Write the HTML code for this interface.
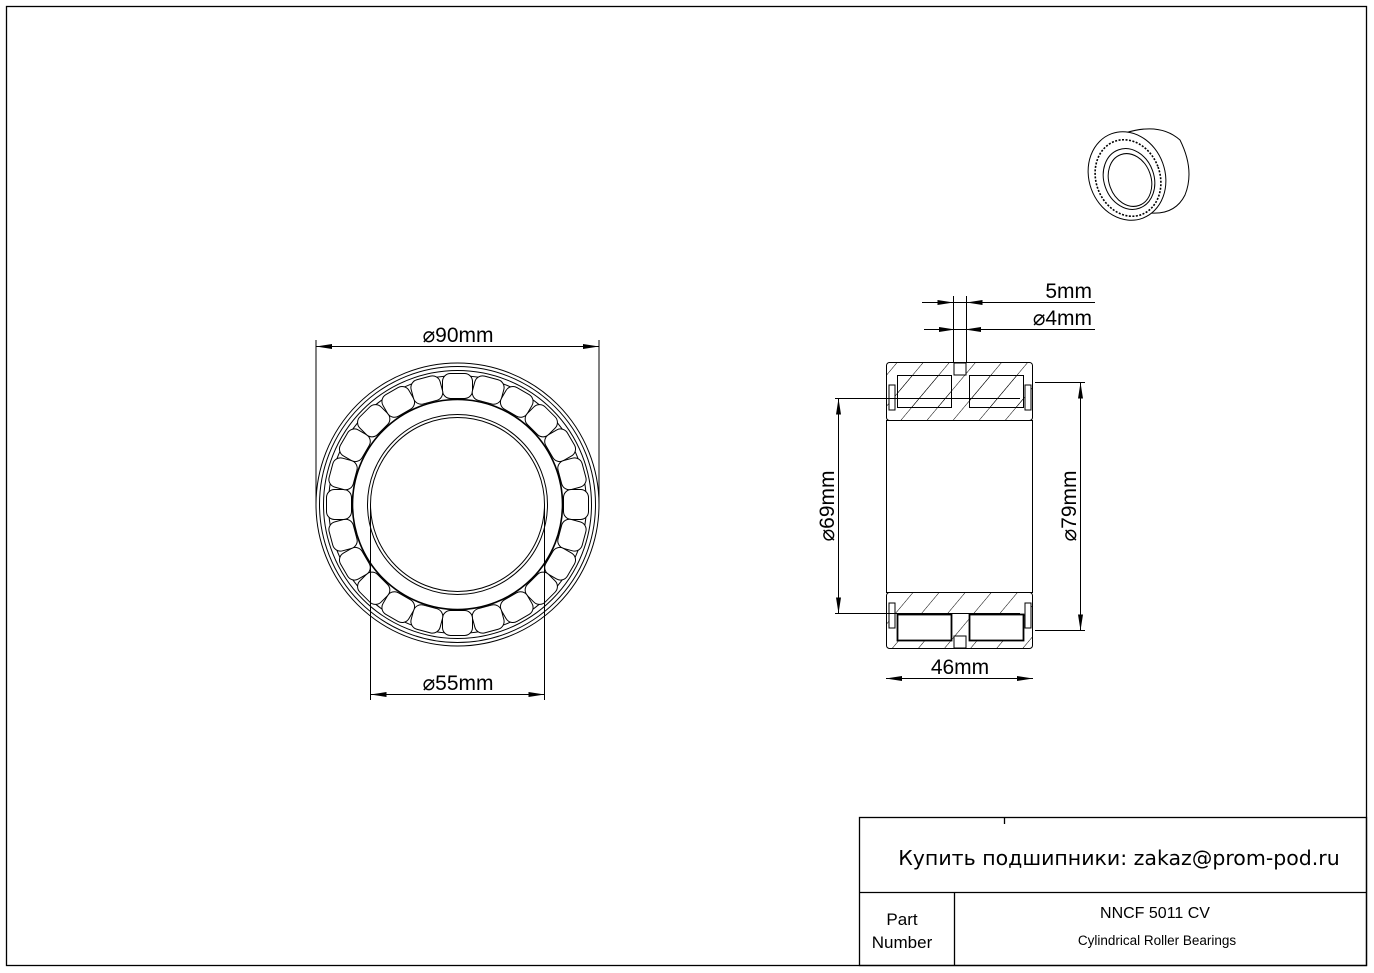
<!DOCTYPE html>
<html><head><meta charset="utf-8"><style>
html,body{margin:0;padding:0;background:#fff}
svg{display:block}
text{font-family:"Liberation Sans","DejaVu Sans",sans-serif;fill:#000}
</style></head><body>
<svg width="1374" height="973" viewBox="0 0 1374 973" xmlns="http://www.w3.org/2000/svg">
<defs>
<pattern id="h" patternUnits="userSpaceOnUse" width="20" height="20" patternTransform="rotate(40)">
<line x1="0" y1="0" x2="0" y2="20" stroke="#000" stroke-width="1"/>
</pattern>
<g id="rol"><rect x="-15" y="-131" width="30" height="25" rx="8" fill="#fff" stroke="#000" stroke-width="1"/></g>
</defs>
<rect x="6.5" y="6.5" width="1360" height="959" fill="none" stroke="#000" stroke-width="1.3"/>
<!-- Title block -->
<g stroke="#000" stroke-width="1.3" fill="none">
<rect x="859.5" y="817.5" width="507" height="148"/>
<line x1="859" y1="892.5" x2="1366" y2="892.5"/>
<line x1="954.5" y1="892" x2="954.5" y2="966"/>
<line x1="1004.5" y1="817" x2="1004.5" y2="824"/>
</g>
<text x="1119" y="865" font-size="20.5" text-anchor="middle" style="font-family:'DejaVu Sans',sans-serif">Купить подшипники: zakaz@prom-pod.ru</text>
<text x="902" y="925" font-size="17" text-anchor="middle">Part</text>
<text x="902" y="948" font-size="17" text-anchor="middle">Number</text>
<text x="1155" y="918" font-size="16" text-anchor="middle">NNCF 5011 CV</text>
<text x="1157" y="945" font-size="13.5" text-anchor="middle">Cylindrical Roller Bearings</text>

<!-- Front view -->
<g fill="none" stroke="#000" stroke-width="1">
<circle cx="457.5" cy="504.5" r="141.5"/>
<circle cx="457.5" cy="504.5" r="138"/>
<circle cx="457.5" cy="504.5" r="134"/>
<circle cx="457.5" cy="504.5" r="129"/>
<circle cx="457.5" cy="504.5" r="105" stroke-width="1.6"/>
<circle cx="457.5" cy="504.5" r="90"/>
<circle cx="457.5" cy="504.5" r="87"/>
</g>
<g transform="translate(457.5,504.5)">
<use href="#rol" transform="rotate(0)"/><use href="#rol" transform="rotate(15)"/><use href="#rol" transform="rotate(30)"/><use href="#rol" transform="rotate(45)"/><use href="#rol" transform="rotate(60)"/><use href="#rol" transform="rotate(75)"/><use href="#rol" transform="rotate(90)"/><use href="#rol" transform="rotate(105)"/><use href="#rol" transform="rotate(120)"/><use href="#rol" transform="rotate(135)"/><use href="#rol" transform="rotate(150)"/><use href="#rol" transform="rotate(165)"/><use href="#rol" transform="rotate(180)"/><use href="#rol" transform="rotate(195)"/><use href="#rol" transform="rotate(210)"/><use href="#rol" transform="rotate(225)"/><use href="#rol" transform="rotate(240)"/><use href="#rol" transform="rotate(255)"/><use href="#rol" transform="rotate(270)"/><use href="#rol" transform="rotate(285)"/><use href="#rol" transform="rotate(300)"/><use href="#rol" transform="rotate(315)"/><use href="#rol" transform="rotate(330)"/><use href="#rol" transform="rotate(345)"/>
</g>
<g stroke="#000" stroke-width="1" fill="none">
<line x1="316" y1="340" x2="316" y2="504"/>
<line x1="599" y1="340" x2="599" y2="504"/>
<line x1="316" y1="346.5" x2="599" y2="346.5"/>
<line x1="370.5" y1="504" x2="370.5" y2="700"/>
<line x1="544.5" y1="504" x2="544.5" y2="700"/>
<line x1="370" y1="694.5" x2="545" y2="694.5"/>
</g>
<g fill="#000">
<path d="M316 346.5 l16 -2.5 v5z"/><path d="M599 346.5 l-16 -2.5 v5z"/>
<path d="M370.5 694.5 l16 -2.5 v5z"/><path d="M544.5 694.5 l-16 -2.5 v5z"/>
</g>
<text x="458" y="342" font-size="21" text-anchor="middle">⌀90mm</text>
<text x="458" y="690" font-size="21" text-anchor="middle">⌀55mm</text>

<!-- Side view -->
<g stroke="#000" stroke-width="1">
<rect x="886.5" y="362.5" width="146" height="58" rx="3" fill="url(#h)"/>
<rect x="886.5" y="592.5" width="146" height="56" rx="3" fill="url(#h)"/>
<rect x="886.5" y="420.5" width="146" height="172" fill="#fff"/>
<rect x="897.5" y="375.5" width="54" height="32" fill="url(#h)"/>
<rect x="969.5" y="375.5" width="54" height="32" fill="url(#h)"/>
<rect x="897.5" y="614.5" width="54" height="26" fill="#fff" stroke-width="1.8"/>
<rect x="969.5" y="614.5" width="54" height="26" fill="#fff" stroke-width="1.8"/>
<rect x="954" y="363" width="12" height="12" fill="#fff"/>
<rect x="954" y="636" width="12" height="12" fill="#fff"/>
<rect x="889" y="385" width="6" height="25" fill="#fff"/>
<rect x="1025" y="385" width="6" height="25" fill="#fff"/>
<rect x="889" y="603" width="6" height="25" fill="#fff"/>
<rect x="1025" y="603" width="6" height="25" fill="#fff"/>
</g>
<g stroke="#000" stroke-width="1" fill="none">
<line x1="953.5" y1="296" x2="953.5" y2="362"/>
<line x1="966.5" y1="296" x2="966.5" y2="362"/>
<line x1="922" y1="302.5" x2="1095" y2="302.5"/>
<line x1="924" y1="329.5" x2="1095" y2="329.5"/>
<line x1="835" y1="398.5" x2="1020" y2="398.5"/>
<line x1="835" y1="613.5" x2="1020" y2="613.5"/>
<line x1="838.5" y1="398" x2="838.5" y2="613"/>
<line x1="1035" y1="382.5" x2="1085" y2="382.5"/>
<line x1="1035" y1="630.5" x2="1085" y2="630.5"/>
<line x1="1080.5" y1="382" x2="1080.5" y2="630"/>
<line x1="886" y1="678.5" x2="1033" y2="678.5"/>
</g>
<g fill="#000">
<path d="M953.5 302.5 l-16 -2.5 v5z"/><path d="M966.5 302.5 l16 -2.5 v5z"/>
<path d="M955 329.5 l-16 -2.5 v5z"/><path d="M965 329.5 l16 -2.5 v5z"/>
<path d="M838.5 398.5 l-2.5 16 h5z"/><path d="M838.5 613.5 l-2.5 -16 h5z"/>
<path d="M1080.5 382.5 l-2.5 16 h5z"/><path d="M1080.5 630.5 l-2.5 -16 h5z"/>
<path d="M886 678.5 l16 -2.5 v5z"/><path d="M1033 678.5 l-16 -2.5 v5z"/>
</g>
<text x="1092" y="298" font-size="21" text-anchor="end">5mm</text>
<text x="1092" y="325" font-size="21" text-anchor="end">⌀4mm</text>
<text x="960" y="674" font-size="21" text-anchor="middle">46mm</text>
<text transform="translate(834,506) rotate(-90)" font-size="21" text-anchor="middle">⌀69mm</text>
<text transform="translate(1076,506) rotate(-90)" font-size="21" text-anchor="middle">⌀79mm</text>

<!-- 3D icon -->
<g fill="#fff" stroke="#000" stroke-width="1">
<path d="M1125 133 Q1160 122 1180 140 Q1195 170 1185 195 Q1175 215 1150 213 L1125 213 Z"/>
<ellipse cx="1127" cy="176" rx="38" ry="45" transform="rotate(-20 1127 176)"/>
<ellipse cx="1128" cy="178" rx="32" ry="39" transform="rotate(-20 1128 178)" stroke-dasharray="2 1.5" stroke-width="1.6"/>
<ellipse cx="1129" cy="179" rx="25" ry="31" transform="rotate(-20 1129 179)"/>
<ellipse cx="1130" cy="180" rx="21" ry="27" transform="rotate(-20 1130 180)"/>
</g>
</svg>
</body></html>
